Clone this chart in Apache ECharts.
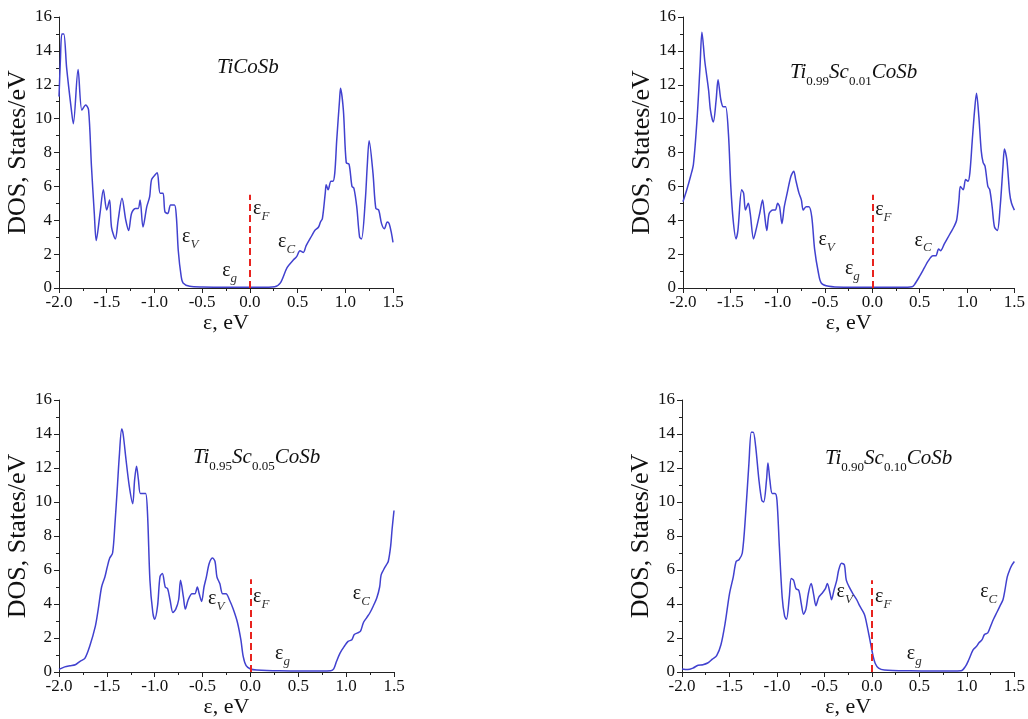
<!DOCTYPE html>
<html>
<head>
<meta charset="utf-8">
<script src="https://cdn.jsdelivr.net/npm/echarts@6/dist/echarts.min.js"></script>
<style>
  html, body { margin: 0; padding: 0; background: #fff; }
  #chart { width: 1028px; height: 719px; }
</style>
</head>
<body>
<div id="chart"></div>
<script>
// energy (eV) vs DOS (states/eV)
const ticosb = [[-2.0,11.3],[-1.985,13.5],[-1.97,15.0],[-1.95,15.0],[-1.92,13.0],[-1.87,10.5],[-1.85,9.7],[-1.80,12.9],[-1.76,10.5],[-1.72,10.8],[-1.69,10.5],[-1.66,7.2],[-1.63,4.4],[-1.61,2.8],[-1.57,4.4],[-1.535,5.8],[-1.50,4.6],[-1.47,5.2],[-1.45,3.6],[-1.41,2.9],[-1.38,4.0],[-1.34,5.3],[-1.30,4.0],[-1.27,3.4],[-1.24,4.4],[-1.20,4.7],[-1.17,4.7],[-1.15,5.2],[-1.12,3.6],[-1.08,4.8],[-1.05,5.4],[-1.03,6.4],[-0.99,6.7],[-0.97,6.8],[-0.94,5.6],[-0.91,5.6],[-0.89,4.5],[-0.86,4.4],[-0.83,4.9],[-0.79,4.9],[-0.77,4.2],[-0.75,2.2],[-0.72,0.7],[-0.70,0.3],[-0.63,0.1],[-0.5,0.06],[-0.2,0.05],[0.1,0.05],[0.26,0.08],[0.32,0.3],[0.39,1.2],[0.455,1.65],[0.49,1.85],[0.525,2.2],[0.56,2.1],[0.59,2.5],[0.65,3.1],[0.68,3.4],[0.72,3.6],[0.74,3.9],[0.76,4.1],[0.79,5.6],[0.80,6.1],[0.82,5.8],[0.85,6.3],[0.87,6.3],[0.89,6.8],[0.91,8.7],[0.94,11.1],[0.95,11.8],[0.98,10.5],[1.01,7.4],[1.04,7.3],[1.07,6.0],[1.09,5.9],[1.12,4.8],[1.15,3.0],[1.17,2.9],[1.21,5.2],[1.23,7.2],[1.25,8.7],[1.29,6.8],[1.32,4.7],[1.35,4.6],[1.38,3.8],[1.41,3.5],[1.44,3.9],[1.46,3.8],[1.485,3.2],[1.50,2.7]];

const sc001 = [[-2.0,5.1],[-1.96,5.8],[-1.92,6.6],[-1.89,7.3],[-1.85,10.1],[-1.82,13.1],[-1.80,15.1],[-1.77,13.4],[-1.73,11.7],[-1.71,10.5],[-1.68,9.8],[-1.65,11.1],[-1.63,12.3],[-1.60,11.1],[-1.575,10.7],[-1.55,10.7],[-1.52,9.1],[-1.495,6.0],[-1.47,4.0],[-1.44,2.9],[-1.42,3.4],[-1.38,5.8],[-1.36,5.6],[-1.34,4.6],[-1.31,5.0],[-1.29,4.4],[-1.255,2.9],[-1.23,3.4],[-1.19,4.4],[-1.16,5.2],[-1.14,4.4],[-1.115,3.4],[-1.09,4.4],[-1.05,4.6],[-1.025,4.6],[-1.0,5.0],[-0.98,4.8],[-0.955,3.8],[-0.93,4.8],[-0.90,5.6],[-0.86,6.6],[-0.83,6.9],[-0.81,6.4],[-0.775,5.6],[-0.75,5.2],[-0.73,4.6],[-0.70,4.8],[-0.67,4.8],[-0.64,4.2],[-0.61,2.3],[-0.57,0.9],[-0.54,0.3],[-0.46,0.1],[-0.3,0.05],[0.0,0.05],[0.3,0.05],[0.42,0.08],[0.445,0.2],[0.50,0.7],[0.55,1.2],[0.59,1.6],[0.64,1.9],[0.67,1.9],[0.70,2.3],[0.72,2.2],[0.76,2.6],[0.79,2.9],[0.83,3.3],[0.86,3.6],[0.89,4.0],[0.915,5.2],[0.93,6.0],[0.96,5.8],[0.985,6.4],[1.01,6.3],[1.03,6.8],[1.055,8.7],[1.08,10.5],[1.10,11.5],[1.125,10.1],[1.15,8.1],[1.17,7.4],[1.19,7.2],[1.22,6.0],[1.24,5.8],[1.265,4.8],[1.29,3.6],[1.32,3.4],[1.35,4.8],[1.38,7.2],[1.395,8.2],[1.42,7.6],[1.45,5.6],[1.47,5.0],[1.50,4.6]];

const sc005 = [[-2.0,0.15],[-1.94,0.3],[-1.885,0.37],[-1.83,0.43],[-1.78,0.63],[-1.73,0.8],[-1.68,1.5],[-1.62,2.7],[-1.59,3.7],[-1.555,5.0],[-1.52,5.6],[-1.495,6.2],[-1.47,6.7],[-1.44,7.0],[-1.415,8.75],[-1.39,10.9],[-1.37,12.7],[-1.345,14.3],[-1.33,14.0],[-1.30,12.5],[-1.265,10.9],[-1.23,9.9],[-1.21,11.3],[-1.19,12.1],[-1.17,11.3],[-1.15,10.5],[-1.12,10.5],[-1.095,10.5],[-1.075,9.3],[-1.05,5.4],[-1.02,3.5],[-1.0,3.1],[-0.97,3.9],[-0.945,5.6],[-0.92,5.8],[-0.89,5.0],[-0.865,4.9],[-0.84,4.25],[-0.81,3.5],[-0.78,3.7],[-0.75,4.25],[-0.73,5.4],[-0.70,4.4],[-0.68,3.7],[-0.65,4.25],[-0.61,4.6],[-0.58,4.6],[-0.555,5.0],[-0.535,4.6],[-0.51,4.15],[-0.485,5.0],[-0.46,5.6],[-0.43,6.4],[-0.395,6.7],[-0.37,6.5],[-0.35,5.6],[-0.32,5.2],[-0.29,4.6],[-0.255,4.6],[-0.22,4.25],[-0.18,3.7],[-0.135,2.9],[-0.10,1.9],[-0.075,0.9],[-0.045,0.37],[0.0,0.18],[0.065,0.12],[0.3,0.07],[0.6,0.06],[0.84,0.08],[0.87,0.18],[0.90,0.63],[0.935,1.1],[0.98,1.5],[1.02,1.8],[1.06,1.9],[1.085,2.2],[1.12,2.3],[1.15,2.4],[1.18,2.9],[1.215,3.2],[1.25,3.5],[1.285,3.9],[1.32,4.35],[1.35,5.0],[1.365,5.7],[1.39,6.0],[1.42,6.3],[1.44,6.5],[1.465,7.4],[1.48,8.4],[1.50,9.5]];

const sc010 = [[-2.0,0.17],[-1.94,0.14],[-1.885,0.23],[-1.83,0.4],[-1.78,0.43],[-1.73,0.53],[-1.68,0.76],[-1.635,0.96],[-1.59,1.6],[-1.545,2.9],[-1.50,4.6],[-1.46,5.6],[-1.43,6.5],[-1.40,6.6],[-1.365,7.0],[-1.33,9.3],[-1.295,12.3],[-1.27,14.1],[-1.25,14.1],[-1.225,13.3],[-1.19,11.3],[-1.16,10.1],[-1.14,10.0],[-1.11,11.3],[-1.095,12.3],[-1.075,11.3],[-1.05,10.5],[-1.02,10.5],[-1.0,10.1],[-0.975,7.4],[-0.945,4.4],[-0.92,3.3],[-0.90,3.1],[-0.87,4.4],[-0.85,5.5],[-0.825,5.4],[-0.80,4.9],[-0.77,4.8],[-0.745,4.05],[-0.72,3.4],[-0.695,3.7],[-0.67,4.6],[-0.64,5.2],[-0.615,4.6],[-0.59,3.9],[-0.56,4.4],[-0.53,4.6],[-0.49,4.9],[-0.47,5.2],[-0.44,4.6],[-0.425,4.25],[-0.40,4.8],[-0.37,5.4],[-0.35,6.0],[-0.32,6.4],[-0.29,6.3],[-0.27,5.4],[-0.23,4.9],[-0.20,4.6],[-0.16,4.25],[-0.13,3.9],[-0.08,3.4],[-0.05,2.7],[-0.015,1.7],[0.01,1.0],[0.035,0.5],[0.07,0.23],[0.13,0.12],[0.4,0.07],[0.7,0.06],[0.94,0.08],[0.985,0.33],[1.02,0.72],[1.065,1.3],[1.10,1.5],[1.125,1.7],[1.16,1.9],[1.185,2.2],[1.22,2.3],[1.25,2.7],[1.28,3.1],[1.315,3.5],[1.35,3.9],[1.38,4.25],[1.40,4.8],[1.425,5.6],[1.45,6.0],[1.475,6.3],[1.50,6.5]];

const panelTitles = [
  '{it|TiCoSb}',
  '{it|Ti}{sub|0.99}{it|Sc}{sub|0.01}{it|CoSb}',
  '{it|Ti}{sub|0.95}{it|Sc}{sub|0.05}{it|CoSb}',
  '{it|Ti}{sub|0.90}{it|Sc}{sub|0.10}{it|CoSb}'
];
const fermiTop = [5.5, 5.5, 5.45, 5.4];

const serif = '"Liberation Serif", "DejaVu Serif", serif';
const blue = '#4141cf';

const grids = [
  { left: 59, top: 17, width: 334, height: 271 },
  { left: 683, top: 17, width: 335, height: 271 },
  { left: 59, top: 400, width: 335, height: 272 },
  { left: 682, top: 400, width: 336, height: 272 }
];
const titlePos = [[217, 57], [790, 62], [193, 447], [825, 448]];
// top-left corner of each label, in data units
const notePos = [
  { V: [-0.71, 3.6], F: [0.033, 5.25], g: [-0.29, 1.6], C: [0.295, 3.3] },
  { V: [-0.57, 3.42], F: [0.03, 5.2], g: [-0.29, 1.7], C: [0.445, 3.4] },
  { V: [-0.443, 4.9], F: [0.027, 5.0], g: [0.257, 1.65], C: [1.07, 5.2] },
  { V: [-0.373, 5.3], F: [0.033, 5.0], g: [0.367, 1.65], C: [1.14, 5.3] }
];
const series = [ticosb, sc001, sc005, sc010];

const noteRich = {
  e: { fontFamily: serif, fontSize: 20, lineHeight: 24, verticalAlign: 'top', color: '#111' },
  s: { fontFamily: serif, fontSize: 13, fontStyle: 'italic', lineHeight: 10, verticalAlign: 'bottom', color: '#333' }
};

const chartInstance = echarts.init(document.getElementById('chart'), null, { renderer: 'canvas' });

const option = {
  backgroundColor: '#fff',
  animation: false,
  title: panelTitles.map((t, i) => ({
    text: t,
    left: titlePos[i][0],
    top: titlePos[i][1],
    padding: 0,
    textStyle: {
      fontWeight: 'normal',
      rich: {
        it: { fontFamily: serif, fontStyle: 'italic', fontWeight: 'normal', fontSize: 21, lineHeight: 26, verticalAlign: 'top', color: '#111' },
        sub: { fontFamily: serif, fontWeight: 'normal', fontSize: 13, lineHeight: 10, verticalAlign: 'bottom', color: '#111' }
      }
    }
  })),
  grid: grids,
  xAxis: grids.map((g, i) => ({
    type: 'value',
    gridIndex: i,
    min: -2.0,
    max: 1.5,
    interval: 0.5,
    name: 'ε, eV',
    nameLocation: 'middle',
    nameGap: 24,
    nameTextStyle: { fontFamily: serif, fontSize: 22, color: '#111' },
    axisLine: { onZero: false, lineStyle: { color: '#222', width: 1 } },
    axisTick: { length: 5, lineStyle: { color: '#222' } },
    minorTick: { show: true, splitNumber: 2, length: 3, lineStyle: { color: '#222' } },
    splitLine: { show: false },
    axisLabel: { fontFamily: serif, fontSize: 17, color: '#111', margin: 6, formatter: v => v.toFixed(1) }
  })),
  yAxis: grids.map((g, i) => ({
    type: 'value',
    gridIndex: i,
    min: 0,
    max: 16,
    interval: 2,
    name: 'DOS, States/eV',
    nameLocation: 'middle',
    nameGap: 25,
    nameTextStyle: { fontFamily: serif, fontSize: 26, color: '#111' },
    axisLine: { show: true, onZero: false, lineStyle: { color: '#222', width: 1 } },
    axisTick: { show: true, length: 5, lineStyle: { color: '#222' } },
    minorTick: { show: true, splitNumber: 2, length: 3, lineStyle: { color: '#222' } },
    splitLine: { show: false },
    axisLabel: { fontFamily: serif, fontSize: 17, color: '#111', margin: 7 }
  })),
  series: series.map((d, i) => ({
    type: 'line',
    xAxisIndex: i,
    yAxisIndex: i,
    data: d,
    smooth: 0.3,
    symbol: 'none',
    lineStyle: { color: blue, width: 1.5 },
    markLine: {
      silent: true,
      symbol: 'none',
      label: { show: false },
      lineStyle: { color: '#e8231f', type: [7, 4], width: 2 },
      data: [[{ coord: [0, 0] }, { coord: [0, fermiTop[i]] }]]
    },
    markPoint: {
      silent: true,
      symbol: 'circle',
      symbolSize: 0,
      label: { show: true, position: [0, 0], rich: noteRich },
      data: ['V', 'F', 'g', 'C'].map(k => ({
        coord: notePos[i][k],
        label: { formatter: '{e|ε}{s|' + k + '}' }
      }))
    }
  }))
};

chartInstance.setOption(option);
</script>
</body>
</html>
